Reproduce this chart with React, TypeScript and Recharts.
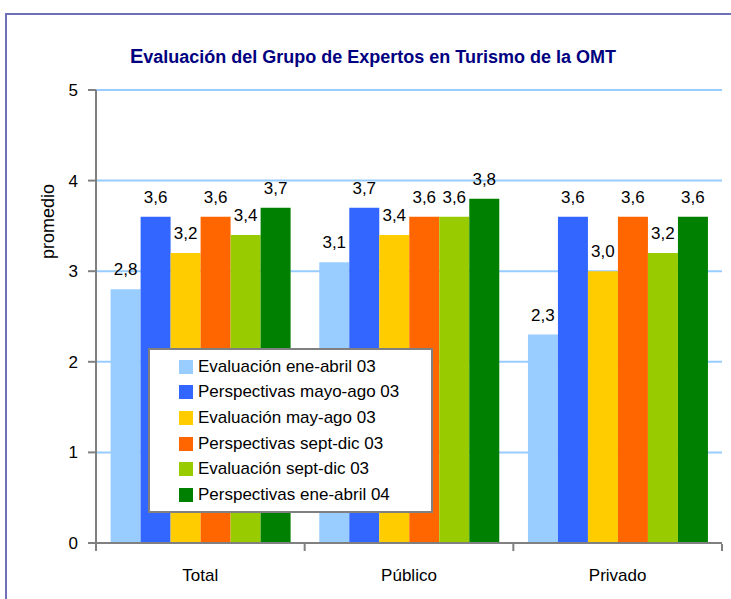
import React from 'react';
import { BarChart, Bar, XAxis, YAxis, CartesianGrid, LabelList } from 'recharts';

const CATEGORIES = ['Total', 'Público', 'Privado'];

const EVAL_ENE_ABR_03 = [2.8, 3.1, 2.3];
const PERSP_MAY_AGO_03 = [3.6, 3.7, 3.6];
const EVAL_MAY_AGO_03 = [3.2, 3.4, 3.0];
const PERSP_SEP_DIC_03 = [3.6, 3.6, 3.6];
const EVAL_SEP_DIC_03 = [3.4, 3.6, 3.2];
const PERSP_ENE_ABR_04 = [3.7, 3.8, 3.6];

const Y_TICKS = [0, 1, 2, 3, 4, 5];

const SERIES = [
  { key: 'e1', name: 'Evaluación ene-abril 03', color: '#99ccff', values: EVAL_ENE_ABR_03 },
  { key: 'p1', name: 'Perspectivas mayo-ago 03', color: '#3366ff', values: PERSP_MAY_AGO_03 },
  { key: 'e2', name: 'Evaluación may-ago 03', color: '#ffcc00', values: EVAL_MAY_AGO_03 },
  { key: 'p2', name: 'Perspectivas sept-dic 03', color: '#ff6600', values: PERSP_SEP_DIC_03 },
  { key: 'e3', name: 'Evaluación sept-dic 03', color: '#99cc00', values: EVAL_SEP_DIC_03 },
  { key: 'p3', name: 'Perspectivas ene-abril 04', color: '#008000', values: PERSP_ENE_ABR_04 },
];

const data = CATEGORIES.map((name, i) => {
  const row: Record<string, string | number> = { name };
  SERIES.forEach((s) => {
    row[s.key] = s.values[i];
  });
  return row;
});

const FONT = '"Liberation Sans", Arial, sans-serif';
const AXIS_GRAY = '#808080';

const fmt = (v: number) => v.toFixed(1).replace('.', ',');

const CategoryTick = (props: any) => {
  const { x, y, payload, index } = props;
  const half = payload && payload.offset ? payload.offset : 104;
  return (
    <g>
      <line x1={x - half} y1={y - 7} x2={x - half} y2={y} stroke={AXIS_GRAY} strokeWidth={2} />
      {index === CATEGORIES.length - 1 && (
        <line x1={x + half} y1={y - 7} x2={x + half} y2={y} stroke={AXIS_GRAY} strokeWidth={2} />
      )}
      <text x={x} y={y + 30} textAnchor="middle" fill="#000" fontSize={17} fontFamily={FONT}>
        {payload.value}
      </text>
    </g>
  );
};

// legend is drawn as an overlay box over the bars, like the original
const LegendBox = () => (
  <div
    style={{
      position: 'absolute',
      left: 148,
      top: 348,
      width: 285,
      height: 165,
      background: '#fff',
      border: '2px solid #808080',
      boxSizing: 'border-box',
      paddingTop: 4,
      paddingLeft: 29,
      fontFamily: FONT,
      fontSize: 17,
      color: '#000',
    }}
  >
    {SERIES.map((s) => (
      <div key={s.key} style={{ display: 'flex', alignItems: 'center', height: 25.6 }}>
        <span style={{ width: 14, height: 14, background: s.color, marginRight: 5, display: 'inline-block' }} />
        <span>{s.name}</span>
      </div>
    ))}
  </div>
);

const YLabel = (props: any) => {
  const { viewBox } = props;
  const cx = 48;
  const cy = viewBox.y + viewBox.height / 2 - 95;
  return (
    <text
      x={cx}
      y={cy}
      transform={`rotate(-90 ${cx} ${cy})`}
      textAnchor="middle"
      dominantBaseline="central"
      fontSize={18}
      fontFamily={FONT}
      fill="#000"
    >
      promedio
    </text>
  );
};

export default function App() {
  return (
    <div style={{ position: 'absolute', left: 0, top: 0, width: 731, height: 599, background: '#fff', overflow: 'hidden' }}>
      <div
        style={{
          position: 'absolute',
          left: 5,
          top: 13,
          width: 760,
          height: 620,
          borderLeft: '2px solid #7070b8',
          borderTop: '2px solid #7070b8',
        }}
      />
      <div
        style={{
          position: 'absolute',
          left: 0,
          width: 746,
          top: 45,
          textAlign: 'center',
          fontFamily: FONT,
          fontWeight: 'bold',
          fontSize: 18,
          color: '#000080',
        }}
      >
        <span style={{ fontSize: 20 }}>E</span>valuación del Grupo de Expertos en Turismo de la OMT
      </div>
      <BarChart
        width={731}
        height={599}
        data={data}
        margin={{ top: 90, right: 9, bottom: 26, left: 0 }}
        barCategoryGap="7%"
        barGap={0}
        style={{ position: 'absolute', left: 0, top: 0 }}
      >
        <CartesianGrid vertical={false} stroke="#99ccff" strokeWidth={2} />
        <XAxis
          dataKey="name"
          height={30}
          axisLine={{ stroke: AXIS_GRAY, strokeWidth: 2 }}
          tickLine={false}
          tick={<CategoryTick />}
          interval={0}
        />
        <YAxis
          width={96}
          domain={[0, 5]}
          ticks={Y_TICKS}
          interval={0}
          axisLine={{ stroke: AXIS_GRAY, strokeWidth: 2 }}
          tickLine={{ stroke: AXIS_GRAY, strokeWidth: 2 }}
          tickSize={8}
          tickMargin={10}
          tick={{ fill: '#000', fontSize: 17, fontFamily: FONT }}
          label={<YLabel />}
        />
        {SERIES.map((s) => (
          <Bar key={s.key} dataKey={s.key} name={s.name} fill={s.color} isAnimationActive={false}>
            <LabelList
              dataKey={s.key}
              position="top"
              offset={14}
              formatter={(v: any) => fmt(Number(v))}
              fill="#000"
              fontSize={17}
              fontFamily={FONT}
            />
          </Bar>
        ))}
      </BarChart>
      <LegendBox />
    </div>
  );
}
